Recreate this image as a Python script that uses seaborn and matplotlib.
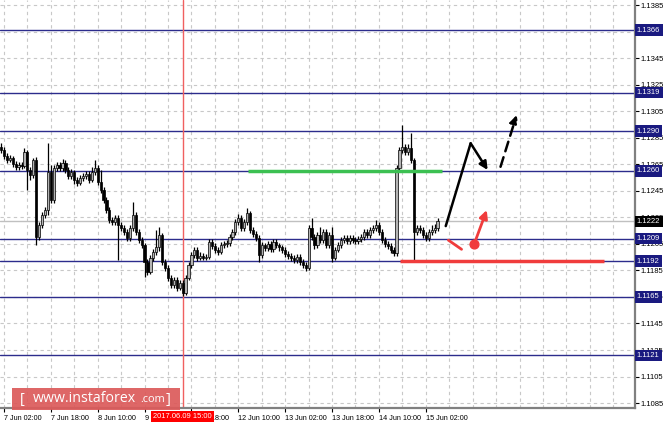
import matplotlib
matplotlib.use("Agg")
import matplotlib.pyplot as plt
from matplotlib.patches import Rectangle
import pandas as pd
import seaborn as sns

# H1 candles, first bar = 7 Jun 01:00
opens = [
    1.12780, 1.12757, 1.12712, 1.12682, 1.12697, 1.12652, 1.12629, 1.12644, 1.12637, 1.12742,
    1.12607, 1.12569, 1.12682, 1.12101, 1.12192, 1.12267, 1.12305, 1.12592, 1.12380, 1.12622,
    1.12644, 1.12622, 1.12659, 1.12607, 1.12561, 1.12592, 1.12531, 1.12508, 1.12546, 1.12561,
    1.12576, 1.12531, 1.12592, 1.12622, 1.12516, 1.12456, 1.12380, 1.12305, 1.12230, 1.12214,
    1.12245, 1.12192, 1.12169, 1.12139, 1.12094, 1.12169, 1.12267, 1.12139, 1.12078, 1.12040,
    1.11913, 1.11838, 1.11943, 1.11988, 1.12025, 1.12116, 1.11913, 1.11868, 1.11792, 1.11740,
    1.11777, 1.11717, 1.11755, 1.11679, 1.11792, 1.11890, 1.11965, 1.12003, 1.11943, 1.11958,
    1.11943, 1.11950, 1.12063, 1.12033, 1.12003, 1.11988, 1.12040, 1.12048, 1.12056, 1.12101,
    1.12139, 1.12214, 1.12245, 1.12169, 1.12214, 1.12282, 1.12154, 1.12124, 1.12094, 1.11965,
    1.12040, 1.12018, 1.12048, 1.12010, 1.12063, 1.12040, 1.12025, 1.12003, 1.11973, 1.11958,
    1.11943, 1.11928, 1.11950, 1.11913, 1.11890, 1.11868, 1.12169, 1.12101, 1.12040, 1.12116,
    1.12078, 1.12139, 1.12040, 1.12116, 1.11943, 1.12003, 1.12040, 1.12078, 1.12094, 1.12071,
    1.12094, 1.12078, 1.12071, 1.12086, 1.12101, 1.12139, 1.12116, 1.12154, 1.12169, 1.12192,
    1.12139, 1.12078, 1.12048, 1.12033, 1.12003, 1.11980, 1.12622, 1.12757, 1.12780, 1.12742,
    1.12772, 1.12682, 1.12139, 1.12169, 1.12154, 1.12116, 1.12094, 1.12139, 1.12154, 1.12169,
]
highs = [
    1.12810, 1.12780, 1.12735, 1.12720, 1.12715, 1.12675, 1.12665, 1.12670, 1.12772, 1.12760,
    1.12630, 1.12700, 1.12705, 1.12215, 1.12290, 1.12330, 1.12810, 1.12644, 1.12645, 1.12670,
    1.12670, 1.12690, 1.12680, 1.12630, 1.12615, 1.12610, 1.12555, 1.12570, 1.12585, 1.12600,
    1.12600, 1.12630, 1.12682, 1.12645, 1.12607, 1.12480, 1.12400, 1.12330, 1.12255, 1.12270,
    1.12265, 1.12215, 1.12190, 1.12160, 1.12190, 1.12365, 1.12290, 1.12160, 1.12100, 1.12060,
    1.11935, 1.11965, 1.12010, 1.12154, 1.12180, 1.12135, 1.11935, 1.11890, 1.11815, 1.11800,
    1.11800, 1.11780, 1.11775, 1.11815, 1.11915, 1.11990, 1.12030, 1.12025, 1.11985, 1.11980,
    1.11970, 1.12085, 1.12085, 1.12055, 1.12025, 1.12065, 1.12070, 1.12080, 1.12125, 1.12160,
    1.12240, 1.12275, 1.12265, 1.12235, 1.12320, 1.12300, 1.12175, 1.12145, 1.12115, 1.12065,
    1.12060, 1.12070, 1.12070, 1.12085, 1.12085, 1.12060, 1.12045, 1.12025, 1.11995, 1.11980,
    1.11965, 1.11975, 1.11970, 1.11935, 1.11910, 1.12192, 1.12245, 1.12125, 1.12140, 1.12177,
    1.12160, 1.12160, 1.12140, 1.12177, 1.12025, 1.12065, 1.12100, 1.12115, 1.12115, 1.12115,
    1.12115, 1.12100, 1.12110, 1.12125, 1.12165, 1.12160, 1.12180, 1.12190, 1.12230, 1.12215,
    1.12160, 1.12100, 1.12070, 1.12055, 1.12025, 1.12645, 1.12780, 1.12946, 1.12805, 1.12800,
    1.12885, 1.12700, 1.12195, 1.12190, 1.12175, 1.12140, 1.12160, 1.12190, 1.12200, 1.12245,
]
lows = [
    1.12735, 1.12690, 1.12660, 1.12665, 1.12630, 1.12605, 1.12610, 1.12615, 1.12620, 1.12456,
    1.12531, 1.12550, 1.12040, 1.12078, 1.12170, 1.12245, 1.12267, 1.12355, 1.12360, 1.12600,
    1.12600, 1.12600, 1.12585, 1.12540, 1.12540, 1.12505, 1.12485, 1.12490, 1.12525, 1.12540,
    1.12510, 1.12515, 1.12570, 1.12495, 1.12430, 1.12355, 1.12280, 1.12205, 1.12190, 1.12195,
    1.11928, 1.12145, 1.12115, 1.12070, 1.12075, 1.12150, 1.12115, 1.12055, 1.12020, 1.11800,
    1.11815, 1.11820, 1.11920, 1.11965, 1.12000, 1.11890, 1.11845, 1.11770, 1.11715, 1.11720,
    1.11695, 1.11700, 1.11657, 1.11665, 1.11775, 1.11870, 1.11945, 1.11920, 1.11925, 1.11925,
    1.11930, 1.11935, 1.12010, 1.11980, 1.11965, 1.11970, 1.12020, 1.12030, 1.12035, 1.12080,
    1.12120, 1.12195, 1.12145, 1.12150, 1.12195, 1.12130, 1.12100, 1.12070, 1.11913, 1.11945,
    1.11995, 1.12000, 1.11985, 1.11990, 1.12020, 1.12000, 1.11980, 1.11950, 1.11935, 1.11920,
    1.11905, 1.11905, 1.11890, 1.11865, 1.11845, 1.11850, 1.12080, 1.12015, 1.12020, 1.12055,
    1.12060, 1.12020, 1.12020, 1.11913, 1.11925, 1.11985, 1.12020, 1.12060, 1.12050, 1.12050,
    1.12060, 1.12050, 1.12050, 1.12065, 1.12080, 1.12095, 1.12095, 1.12135, 1.12150, 1.12115,
    1.12055, 1.12025, 1.12010, 1.11980, 1.11958, 1.11960, 1.12600, 1.12735, 1.12720, 1.12720,
    1.12660, 1.11928, 1.12115, 1.12130, 1.12095, 1.12070, 1.12075, 1.12120, 1.12135, 1.12150,
]
closes = [
    1.12757, 1.12712, 1.12682, 1.12697, 1.12652, 1.12629, 1.12644, 1.12637, 1.12742, 1.12607,
    1.12569, 1.12682, 1.12101, 1.12192, 1.12267, 1.12305, 1.12592, 1.12380, 1.12622, 1.12644,
    1.12622, 1.12659, 1.12607, 1.12561, 1.12592, 1.12531, 1.12508, 1.12546, 1.12561, 1.12576,
    1.12531, 1.12592, 1.12622, 1.12516, 1.12456, 1.12380, 1.12305, 1.12230, 1.12214, 1.12245,
    1.12192, 1.12169, 1.12139, 1.12094, 1.12169, 1.12267, 1.12139, 1.12078, 1.12040, 1.11913,
    1.11838, 1.11943, 1.11988, 1.12025, 1.12116, 1.11913, 1.11868, 1.11792, 1.11740, 1.11777,
    1.11717, 1.11755, 1.11679, 1.11792, 1.11890, 1.11965, 1.12003, 1.11943, 1.11958, 1.11943,
    1.11950, 1.12063, 1.12033, 1.12003, 1.11988, 1.12040, 1.12048, 1.12056, 1.12101, 1.12139,
    1.12214, 1.12245, 1.12169, 1.12214, 1.12282, 1.12154, 1.12124, 1.12094, 1.11965, 1.12040,
    1.12018, 1.12048, 1.12010, 1.12063, 1.12040, 1.12025, 1.12003, 1.11973, 1.11958, 1.11943,
    1.11928, 1.11950, 1.11913, 1.11890, 1.11868, 1.12169, 1.12101, 1.12040, 1.12116, 1.12078,
    1.12139, 1.12040, 1.12116, 1.11943, 1.12003, 1.12040, 1.12078, 1.12094, 1.12071, 1.12094,
    1.12078, 1.12071, 1.12086, 1.12101, 1.12139, 1.12116, 1.12154, 1.12169, 1.12192, 1.12139,
    1.12078, 1.12048, 1.12033, 1.12003, 1.11980, 1.12622, 1.12757, 1.12780, 1.12742, 1.12772,
    1.12682, 1.12139, 1.12169, 1.12154, 1.12116, 1.12094, 1.12139, 1.12154, 1.12169, 1.12222,
]

# levels drawn on the chart
levels = [1.1366, 1.1319, 1.1290, 1.1260, 1.1209, 1.1192, 1.1165, 1.1121]
bid = 1.1222
price_ticks = [1.1085, 1.1105, 1.1125, 1.1145, 1.1165, 1.1185, 1.1205, 1.1225,
               1.1245, 1.1265, 1.1285, 1.1305, 1.1325, 1.1345, 1.1365, 1.1385]
time_ticks = [1, 17, 33, 49, 65, 81, 97, 113, 129, 145]
time_labels = ["7 Jun 02:00", "7 Jun 18:00", "8 Jun 10:00", "9 Jun 02:00",
               "9 Jun 18:00", "12 Jun 10:00", "13 Jun 02:00", "13 Jun 18:00",
               "14 Jun 10:00", "15 Jun 02:00"]
marker_bar = 62
marker_label = "2017.06.09 15:00"

# hand drawn forecast marks (bar index, price)
green_zone = (84.3, 150.5, 1.1260)
red_zone = (136.2, 205.8, 1.1192)
black_path = [(151.8, 1.12184), (160.3, 1.12808), (166.1, 1.12607)]
black_dashed = [(170.5, 1.12631), (176.0, 1.13021)]
red_dash = [(152.7, 1.12078), (157.2, 1.12009)]
red_arrow = [(161.5, 1.12048), (165.8, 1.12305)]

df = pd.DataFrame({"open": opens, "high": highs, "low": lows, "close": closes})
df["bar"] = range(len(df))
up = df["close"] >= df["open"]

sns.set_style("white")
plt.rcParams["font.family"] = ["Liberation Sans", "DejaVu Sans"]

fig = plt.figure(figsize=(6.64, 4.25), dpi=100)
ax = fig.add_axes([0, 17 / 425, 635 / 664, 408 / 425])

# grid
ax.set_yticks(price_ticks)
ax.set_xticks(time_ticks)
ax.set_xticks([t + 8 for t in time_ticks] + list(range(161, 217, 8)), minor=True)
ax.grid(True, which="both", ls=(0, (3, 3)), color="#c8c8c8", lw=0.8)
ax.set_axisbelow(True)

# levels
for lv in levels:
    ax.axhline(lv, color="#2c2c8c", lw=1, zorder=2)
ax.axhline(bid, color="#c0c0c0", lw=1, zorder=1.5)
ax.axvline(marker_bar, color="#f06060", lw=1, zorder=2.5)

# candles
ax.vlines(df["bar"], df["low"], df["high"], color="black", lw=0.9, zorder=3)
ax.bar(df["bar"][up], (df["close"] - df["open"])[up], bottom=df["open"][up], width=0.75,
       color="#b4b4b4", edgecolor="black", lw=0.5, zorder=4)
ax.bar(df["bar"][~up], (df["close"] - df["open"])[~up], bottom=df["open"][~up], width=0.75,
       color="black", edgecolor="black", lw=0.5, zorder=4)

# forecast drawings
ax.hlines(green_zone[2], green_zone[0], green_zone[1], color="#3cc052", lw=2.5, zorder=5)
ax.hlines(red_zone[2], red_zone[0], red_zone[1], color="#f03c3c", lw=2.5, zorder=5)
ax.plot([p[0] for p in black_path[:2]], [p[1] for p in black_path[:2]], color="black", lw=1.8, zorder=6)
ax.annotate("", xy=black_path[2], xytext=black_path[1],
            arrowprops=dict(arrowstyle="-|>", color="black", lw=1.8, mutation_scale=12, shrinkA=0, shrinkB=0), zorder=6)
ax.annotate("", xy=black_dashed[1], xytext=black_dashed[0],
            arrowprops=dict(arrowstyle="-|>", color="black", lw=1.8, ls=(0, (4, 2.5)), mutation_scale=12,
                            shrinkA=0, shrinkB=0), zorder=6)
ax.plot([p[0] for p in red_dash], [p[1] for p in red_dash], color="#f03c3c", lw=2, zorder=6)
ax.scatter([red_arrow[0][0]], [red_arrow[0][1]], s=40, color="#f03c3c", zorder=7)
ax.annotate("", xy=red_arrow[1], xytext=red_arrow[0],
            arrowprops=dict(arrowstyle="-|>", color="#f03c3c", lw=2, mutation_scale=12, shrinkA=0, shrinkB=0), zorder=6)

ax.set_xlim(-0.34, 216.4)
ax.set_ylim(1.10813, 1.13888)

# axes styling like the terminal
for s in ["left", "top"]:
    ax.spines[s].set_visible(False)
for s in ["right", "bottom"]:
    ax.spines[s].set_color("#808080")
    ax.spines[s].set_linewidth(1.6)
ax.yaxis.tick_right()
ax.set_yticklabels([f"{p:.4f}" for p in price_ticks])
ax.set_xticklabels(time_labels, ha="left")
ax.tick_params(axis="y", which="major", length=3, width=0.8, pad=1.0, labelsize=5.5, colors="black", right=True)
ax.tick_params(axis="x", which="major", length=3, width=0.8, pad=2, labelsize=5.2, colors="black", bottom=True)
ax.tick_params(which="minor", length=0)

# price boxes on the right
trans = ax.get_yaxis_transform()
for lv in levels:
    ax.text(1.003, lv, f"{lv:.4f}", transform=trans, ha="left", va="center", fontsize=5.5, color="white",
            bbox=dict(boxstyle="square,pad=0.3", fc="#1a1a80", ec="none"), clip_on=False, zorder=10)
ax.text(1.003, bid, f"{bid:.4f}", transform=trans, ha="left", va="center", fontsize=5.5, color="white",
        bbox=dict(boxstyle="square,pad=0.3", fc="black", ec="none"), clip_on=False, zorder=10)

# time marker box
ax.text(marker_bar, -0.012, marker_label, transform=ax.get_xaxis_transform(), ha="center", va="top",
        fontsize=5.4, color="white", bbox=dict(boxstyle="square,pad=0.25", fc="#ff0000", ec="none"),
        clip_on=False, zorder=10)

# watermark logo
logo_font = ["Open Sans", "DejaVu Sans"]
fig.patches.append(Rectangle((12 / 664, 15 / 425), 168 / 664, 22 / 425, transform=fig.transFigure,
                             fc="#dc5a5a", ec="none", alpha=0.92, zorder=20))
fig.text(20 / 664, 26 / 425, "[", color="white", fontsize=10.5, va="center", ha="left", zorder=21, family=logo_font)
fig.text(33 / 664, 26 / 425, "www.instaforex", color="white", fontsize=10.2, va="center", ha="left", zorder=21,
         family=logo_font)
fig.text(140 / 664, 25 / 425, ".com", color="white", fontsize=7.8, va="center", ha="left", zorder=21, family=logo_font)
fig.text(166 / 664, 26 / 425, "]", color="white", fontsize=10.5, va="center", ha="left", zorder=21, family=logo_font)

fig.savefig("out.png", dpi=100)
